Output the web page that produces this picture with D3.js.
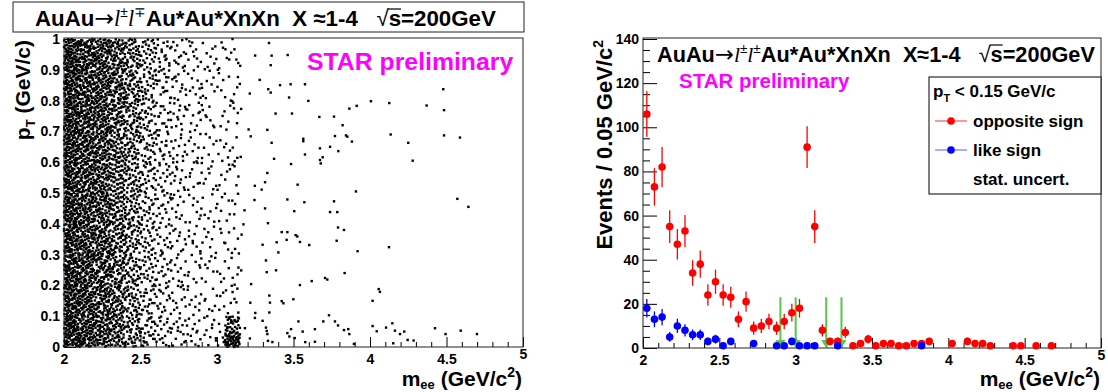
<!DOCTYPE html>
<html>
<head>
<meta charset="utf-8">
<script src="https://cdn.jsdelivr.net/npm/d3@7"></script>
<style>
  body { margin: 0; background: #fff; }
  text { font-family: "Liberation Sans", Arial, sans-serif; font-weight: bold; }
</style>
</head>
<body>
<svg id="chart" width="1108" height="392"></svg>
<script>
const gridEdgesM = [2.0, 2.1, 2.2, 2.3, 2.4, 2.5, 2.6, 2.7, 2.8, 2.9, 3.0, 3.1, 3.15, 3.28];
const gridEdgesPt = [0, 0.1, 0.2, 0.3, 0.4, 0.5, 0.6, 0.7, 0.8, 0.9, 1.0];
// one row per pT bin (bottom row first), one count per mass bin
const gridCounts = [
  [94, 82, 72, 58, 42, 28, 19, 15, 13, 10, 9, 5, 3],
  [90, 78, 70, 54, 38, 24, 16, 12, 10, 8, 8, 5, 2],
  [88, 78, 68, 53, 37, 24, 16, 12, 9, 8, 7, 4, 2],
  [86, 76, 68, 53, 39, 24, 17, 12, 9, 8, 7, 4, 2],
  [88, 78, 70, 53, 38, 24, 16, 12, 9, 7, 8, 4, 2],
  [86, 76, 68, 53, 39, 25, 17, 13, 10, 8, 7, 4, 1],
  [88, 78, 70, 55, 41, 26, 17, 13, 10, 8, 7, 4, 2],
  [90, 78, 72, 58, 44, 27, 18, 13, 10, 8, 7, 4, 2],
  [92, 80, 72, 60, 46, 28, 19, 14, 10, 8, 7, 4, 2],
  [92, 82, 74, 60, 46, 29, 20, 14, 11, 9, 8, 4, 2]
];
// J/psi cluster at low pT: [m0, m1, pt0, pt1, count]
const jpsiCells = [
  [3.05, 3.10, 0.00, 0.05, 30],
  [3.10, 3.15, 0.00, 0.05, 26],
  [3.05, 3.10, 0.05, 0.10, 14],
  [3.10, 3.15, 0.05, 0.10, 10]
];
// sparse tail, single events (m_ee, pT)
const tailM = [3.340,3.357,3.351,3.462,3.335,3.351,3.412,3.481,3.575,3.471,3.597,4.479,3.383,3.490,3.669,3.765,3.865,3.913,4.006,4.126,
  4.370,4.484,3.329,3.357,3.564,3.564,3.821,3.771,3.843,3.852,3.882,4.135,4.250,4.484,4.588,3.673,3.739,3.793,3.575,3.373,
  3.673,3.691,3.678,3.484,4.279,3.329,3.314,3.292,3.527,3.908,3.460,3.571,3.765,3.314,3.505,3.739,3.786,4.571,4.643,3.333,
  3.423,3.460,3.514,3.525,3.390,3.455,3.542,3.603,3.791,3.830,3.782,3.298,3.401,3.919,4.124,3.320,3.325,3.386,3.619,3.542,
  3.706,3.721,3.834,4.057,4.065,3.342,3.346,3.423,3.434,3.499,4.017,3.342,3.298,3.320,3.325,3.329,3.333,3.362,3.460,3.473,
  3.508,3.484,3.532,3.560,3.577,3.640,3.640,3.695,3.732,3.771,3.791,3.830,3.858,3.865,3.895,4.017,4.044,4.105,4.146,4.163,
  4.152,4.196,4.224,4.246,4.285,4.425,4.494,4.593,4.699];
const tailPt = [0.987,0.946,0.915,0.948,0.837,0.826,0.850,0.853,0.853,0.810,0.799,0.837,0.758,0.758,0.747,0.748,0.774,0.783,0.798,0.792,
  0.784,0.769,0.705,0.663,0.676,0.668,0.720,0.685,0.687,0.683,0.667,0.690,0.663,0.687,0.680,0.645,0.650,0.636,0.625,0.611,
  0.607,0.616,0.596,0.594,0.605,0.565,0.535,0.511,0.527,0.505,0.479,0.470,0.473,0.450,0.441,0.438,0.438,0.481,0.455,0.402,
  0.373,0.373,0.363,0.359,0.340,0.348,0.341,0.331,0.388,0.380,0.345,0.332,0.307,0.311,0.324,0.281,0.243,0.249,0.214,0.201,
  0.224,0.219,0.240,0.188,0.179,0.167,0.144,0.149,0.142,0.155,0.150,0.112,0.085,0.063,0.052,0.042,0.020,0.016,0.045,0.034,
  0.029,0.058,0.083,0.050,0.016,0.017,0.058,0.083,0.103,0.083,0.070,0.055,0.058,0.042,0.010,0.068,0.051,0.063,0.077,0.053,
  0.012,0.042,0.050,0.023,0.021,0.061,0.042,0.053,0.042];

// ---- right panel: pT < 0.15 GeV/c mass spectra ----
const oppMass = [2.025,2.075,2.125,2.175,2.225,2.275,2.325,2.375,2.425,2.475,2.525,2.575,2.625,2.675,2.725,2.775,2.825,2.875,2.925,2.975,
  3.025,3.075,3.125,3.175,3.225,3.275,3.325,3.375,3.425,3.475,3.525,3.575,3.625,3.675,3.725,3.775,3.825,3.875,4.025,4.125,
  4.175,4.225,4.275,4.425,4.475,4.575,4.675];
const oppCount = [106,73,82,55,47,53,34,38,24,30,24,23,13,21,9,10,12,9,12,16,
  18,91,55,8,3,3,7,1,2,4,1,2,2,1,1,2,2,3,2,3,
  2,2,1,1,1,1,1];
const oppErr = [10.3,8.5,9.1,7.4,6.9,7.3,5.8,6.2,4.9,5.5,4.9,4.8,3.6,4.6,3,3.2,3.5,3,3.5,4,
  4.2,9.5,7.4,2.8,1.7,1.7,2.6,1,1.4,2,1,1.4,1.4,1,1,1.4,1.4,1.7,1.4,1.7,
  1.4,1.4,1,1,1,1,1];
const likeMass = [2.025,2.075,2.125,2.175,2.225,2.275,2.325,2.375,2.425,2.475,2.525,2.575,2.725,2.875,2.925,2.975,3.025,3.075,3.125,3.275,3.825];
const likeCount = [18,13,14,5,10,8,6,6,3,4,1,3,2,1,1,3,1,1,1,1,1];
const likeErr = [4.2,3.6,3.7,2.2,3.2,2.8,2.4,2.4,1.7,2,1,1.7,1.4,1,1,1.7,1,1,1,1,1];
const arrowMass = [2.9, 3.0, 3.2, 3.3];
const arrowTop = 23;

const xTicks = [2, 2.5, 3, 3.5, 4, 4.5, 5];
const ptTicks = [0, 0.1, 0.2, 0.3, 0.4, 0.5, 0.6, 0.7, 0.8, 0.9, 1];
const countTicks = [0, 20, 40, 60, 80, 100, 120, 140];

const FONT = '"Liberation Sans", Arial, sans-serif';
const svg = d3.select('#chart');
svg.append('rect').attr('width', 1108).attr('height', 392).attr('fill', '#fff');

const xL = d3.scaleLinear().domain([2, 5]).range([64, 523]);
const yL = d3.scaleLinear().domain([0, 1]).range([347, 39]);
const xR = d3.scaleLinear().domain([2, 5]).range([643, 1101]);
const yR = d3.scaleLinear().domain([0, 140]).range([348, 39]);

// ---------- scatter points ----------
// spread each cell's count evenly with a shifted Halton sequence
function halton(i, b) {
  let f = 1, r = 0;
  while (i > 0) { f /= b; r += f * (i % b); i = Math.floor(i / b); }
  return r;
}
const pts = [];
function fillCell(m0, m1, p0, p1, n, seed) {
  const s1 = (seed * 0.6180339887) % 1, s2 = (seed * 0.4142135624) % 1;
  const start = seed * 37 + 11;
  for (let k = 0; k < n; k++) {
    const u = (halton(start + k, 2) + s1) % 1;
    const v = (halton(start + k, 3) + s2) % 1;
    pts.push([m0 + u * (m1 - m0), p0 + v * (p1 - p0)]);
  }
}
gridCounts.forEach((row, i) => {
  row.forEach((n, j) => {
    fillCell(gridEdgesM[j], gridEdgesM[j + 1], gridEdgesPt[i], gridEdgesPt[i + 1], n, i * 13 + j + 1);
  });
});
jpsiCells.forEach((c, i) => fillCell(c[0], c[1], c[2], c[3], c[4], 200 + i));
tailM.forEach((m, i) => pts.push([m, tailPt[i]]));

svg.append('g').selectAll('rect')
  .data(pts)
  .join('rect')
  .attr('x', d => xL(d[0]) - 1.2)
  .attr('y', d => yL(d[1]) - 1.2)
  .attr('width', 2.4)
  .attr('height', 2.4)
  .attr('fill', '#000');

// ---------- axes helper ----------
function drawAxes(x, y, yMajor, yMinor, yFmt, yTick) {
  const bottom = y.range()[0], top = y.range()[1];
  const left = x.range()[0], right = x.range()[1];
  const xMinor = d3.range(20, 51).map(d => d / 10).filter(d => !xTicks.includes(d));

  const gx = svg.append('g').attr('transform', `translate(0,${bottom})`)
    .call(d3.axisBottom(x).tickValues(xTicks).tickSize(-10).tickPadding(7).tickFormat(d3.format('~g')));
  svg.append('g').attr('transform', `translate(0,${bottom})`)
    .call(d3.axisBottom(x).tickValues(xMinor).tickSize(-5).tickFormat(''));
  const gy = svg.append('g').attr('transform', `translate(${left},0)`)
    .call(d3.axisLeft(y).tickValues(yMajor).tickSize(-yTick).tickPadding(4).tickFormat(yFmt));
  svg.append('g').attr('transform', `translate(${left},0)`)
    .call(d3.axisLeft(y).tickValues(yMinor).tickSize(-yTick / 2).tickFormat(''));

  svg.selectAll('.domain').remove();
  svg.selectAll('.tick line').attr('stroke', '#000');
  [gx, gy].forEach(g => g.selectAll('text')
    .attr('font-size', 14).attr('font-family', FONT).attr('font-weight', 'bold').attr('fill', '#000'));
  // ROOT lifts the last x label
  gx.selectAll('.tick').filter(d => d === 5).select('text').attr('y', 2);

  svg.append('rect')
    .attr('x', left).attr('y', top - 1)
    .attr('width', right - left).attr('height', bottom - top + 1)
    .attr('fill', 'none').attr('stroke', '#222').attr('stroke-width', 1);
}

// ---------- left panel ----------
drawAxes(xL, yL, ptTicks,
  d3.range(0, 51).map(d => d / 50).filter(d => Math.round(d * 50) % 5 !== 0),
  d => (d === 0 || d === 1) ? d3.format('d')(d) : d3.format('.1f')(d), 12);

// ---------- right panel ----------
drawAxes(xR, yR, countTicks,
  d3.range(0, 141, 5).filter(d => d % 20 !== 0),
  d3.format('d'), 14);

// green arrows
const arrows = svg.append('g');
arrowMass.forEach(m => {
  const x = xR(m);
  arrows.append('line')
    .attr('x1', x).attr('x2', x)
    .attr('y1', yR(arrowTop)).attr('y2', yR(0) - 6)
    .attr('stroke', '#55c84a').attr('stroke-width', 2);
  arrows.append('path')
    .attr('d', `M${x - 5},${yR(0) - 8}L${x + 5},${yR(0) - 8}L${x},${yR(0)}Z`)
    .attr('fill', '#55c84a');
});

function drawSeries(mass, count, err, color) {
  const g = svg.append('g');
  mass.forEach((m, i) => {
    g.append('line')
      .attr('x1', xR(m)).attr('x2', xR(m))
      .attr('y1', yR(Math.max(0, count[i] - err[i])))
      .attr('y2', yR(count[i] + err[i]))
      .attr('stroke', color).attr('stroke-width', 1.3);
  });
  g.selectAll('circle')
    .data(mass)
    .join('circle')
    .attr('cx', d => xR(d))
    .attr('cy', (d, i) => yR(count[i]))
    .attr('r', 3.8)
    .attr('fill', color);
}
drawSeries(oppMass, oppCount, oppErr, '#ff0000');
drawSeries(likeMass, likeCount, likeErr, '#0000ff');

// ---------- titles ----------
function addTitle(x, y, size, signs, gap) {
  const t = svg.append('text')
    .attr('x', x).attr('y', y)
    .attr('font-size', size)
    .attr('fill', '#000')
    .style('white-space', 'pre');
  t.append('tspan').text('AuAu');
  t.append('tspan').attr('font-family', '"DejaVu Sans", sans-serif').attr('font-weight', 'normal')
    .attr('font-size', size * 1.05).text('→');
  signs.forEach((s, i) => {
    t.append('tspan')
      .attr('font-family', '"Liberation Serif", serif')
      .attr('font-style', 'italic').attr('font-weight', 'normal')
      .attr('dy', i === 0 ? 0 : size * 0.42)
      .text('l');
    t.append('tspan')
      .attr('font-weight', 'normal')
      .attr('font-size', size * 0.62)
      .attr('dy', -size * 0.42)
      .text(s);
  });
  t.append('tspan').attr('dy', size * 0.42).text('Au*Au*XnXn  X' + gap + '≈');
  t.append('tspan').text('1-4   ');
  t.append('tspan').attr('font-weight', 'normal').text('√');
  t.append('tspan').text('s=200GeV');
  // overline of the square root
  const full = t.text();
  const node = t.node();
  const iRoot = full.indexOf('√');
  const eRoot = node.getExtentOfChar(iRoot);
  const eS = node.getExtentOfChar(iRoot + 1);
  const yTop = eRoot.y + eRoot.height * 0.12;
  svg.append('line')
    .attr('x1', eRoot.x + eRoot.width - 1).attr('x2', eS.x + eS.width)
    .attr('y1', yTop).attr('y2', yTop)
    .attr('stroke', '#000').attr('stroke-width', 1.2);
  return t;
}

svg.append('rect')
  .attr('x', 13).attr('y', 2).attr('width', 511).attr('height', 30)
  .attr('fill', '#fff').attr('stroke', '#222').attr('stroke-width', 1);
addTitle(35, 26, 22.3, ['±', '∓'], ' ');
addTitle(657, 62, 21.7, ['±', '±'], '');

svg.append('text')
  .attr('x', 307).attr('y', 70)
  .attr('font-size', 24.8).attr('fill', '#ff00ff')
  .text('STAR preliminary');
svg.append('text')
  .attr('x', 679).attr('y', 88)
  .attr('font-size', 20.5).attr('fill', '#ff00ff')
  .text('STAR preliminary');

// ---------- axis titles ----------
function subText(sel, parts) {
  parts.forEach(p => {
    const ts = sel.append('tspan').text(p[0]);
    if (p[1]) ts.attr('font-size', p[1]);
    if (p[2]) ts.attr('dy', p[2]);
  });
}
const yTitleL = svg.append('text')
  .attr('transform', 'translate(30,40) rotate(-90)')
  .attr('text-anchor', 'end').attr('font-size', 21).attr('fill', '#000')
  .style('white-space', 'pre');
subText(yTitleL, [['p'], ['T', 13, 5], [' (GeV/c)', 21, -5]]);

const yTitleR = svg.append('text')
  .attr('transform', 'translate(612,40) rotate(-90)')
  .attr('text-anchor', 'end').attr('font-size', 22).attr('fill', '#000')
  .style('white-space', 'pre');
subText(yTitleR, [['Events / 0.05 GeV/c'], ['2', 14, -9]]);

[[522, 386], [1100, 386]].forEach(pos => {
  const t = svg.append('text')
    .attr('x', pos[0]).attr('y', pos[1])
    .attr('text-anchor', 'end').attr('font-size', 21).attr('fill', '#000')
    .style('white-space', 'pre');
  subText(t, [['m'], ['ee', 13, 3], [' (GeV/c', 21, -3], ['2', 14, -9], [')', 21, 9]]);
});

// ---------- legend ----------
const leg = svg.append('g');
leg.append('rect')
  .attr('x', 929).attr('y', 77).attr('width', 172).attr('height', 117)
  .attr('fill', '#fff').attr('stroke', '#000').attr('stroke-width', 1);
const lh = leg.append('text').attr('x', 933).attr('y', 97).attr('font-size', 17).attr('fill', '#000');
subText(lh, [['p'], ['T', 11, 5], [' < 0.15 GeV/c', 17, -5]]);
[['opposite sign', '#ff0000', '#ff5555', 121], ['like sign', '#0000ff', '#7777ff', 150]].forEach(e => {
  leg.append('line').attr('x1', 935).attr('x2', 967).attr('y1', e[3]).attr('y2', e[3])
    .attr('stroke', e[2]).attr('stroke-width', 1.2);
  leg.append('circle').attr('cx', 951).attr('cy', e[3]).attr('r', 3.8).attr('fill', e[1]);
  leg.append('text').attr('x', 973).attr('y', e[3] + 6).attr('font-size', 17).attr('fill', '#000').text(e[0]);
});
leg.append('text').attr('x', 973).attr('y', 185).attr('font-size', 17).attr('fill', '#000').text('stat. uncert.');
</script>
</body>
</html>
